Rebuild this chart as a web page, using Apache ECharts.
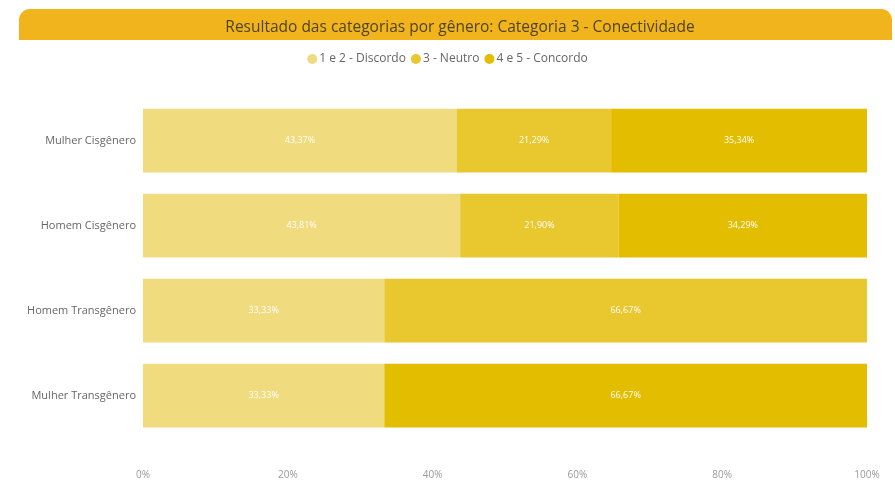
<!DOCTYPE html>
<html>
<head>
<meta charset="utf-8">
<script src="https://cdn.jsdelivr.net/npm/echarts@6/dist/echarts.min.js"></script>
<style>
  html, body { margin: 0; padding: 0; background: #fff; }
  #chart { width: 895px; height: 484px; }
</style>
</head>
<body>
<div id="chart"></div>
<script>
const categories = ["Mulher Cisgênero", "Homem Cisgênero", "Homem Transgênero", "Mulher Transgênero"];
const seriesNames = ["1 e 2 - Discordo", "3 - Neutro", "4 e 5 - Concordo"];
const discordo = [43.37, 43.81, 33.33, 33.33];
const neutro = [21.29, 21.90, 66.67, null];
const concordo = [35.34, 34.29, null, 66.67];
const xTicks = [0, 20, 40, 60, 80, 100];

const colors = ["#F0DB7E", "#E9C72F", "#E3BD00"];
const font = "'Open Sans', 'Noto Sans', sans-serif";

const fmt = (p) => p.value == null ? "" : p.value.toFixed(2).replace(".", ",") + "%";

const makeSeries = (name, data) => ({
  name: name,
  type: "bar",
  stack: "total",
  barCategoryGap: "25%",
  data: data,
  label: {
    show: true,
    position: "inside",
    color: "#fff",
    fontSize: 9,
    fontFamily: font,
    formatter: fmt,
  },
});

var chart = echarts.init(document.getElementById("chart"));
chart.setOption({
  animation: false,
  color: colors,
  graphic: [
    {
      type: "rect",
      left: 19,
      top: 9,
      shape: { width: 873, height: 31, r: [11, 11, 0, 0] },
      style: { fill: "#F2B41C" },
      z: 0,
    },
  ],
  title: {
    text: "Resultado das categorias por gênero: Categoria 3 - Conectividade",
    left: 455,
    textAlign: "center",
    top: 15,
    textStyle: { fontSize: 15.5, fontWeight: "normal", color: "#4F4420", fontFamily: font },
  },
  legend: {
    top: 48,
    left: "center",
    icon: "circle",
    itemWidth: 10,
    itemHeight: 10,
    itemGap: 5,
    textStyle: { fontSize: 12, color: "#666", fontFamily: font, padding: [0, 0, 0, -3] },
    data: seriesNames,
  },
  grid: { left: 143, right: 28, top: 98, bottom: 46 },
  xAxis: {
    type: "value",
    min: 0,
    max: 100,
    interval: 20,
    axisLine: { show: false },
    axisTick: { show: false },
    splitLine: { show: false },
    axisLabel: {
      margin: 32,
      color: "#999",
      fontSize: 10,
      fontFamily: font,
      formatter: (v) => (xTicks.includes(v) ? v + "%" : ""),
    },
  },
  yAxis: {
    type: "category",
    data: categories,
    inverse: true,
    axisLine: { show: false },
    axisTick: { show: false },
    axisLabel: { color: "#666", fontSize: 11, fontFamily: font, margin: 7 },
  },
  series: [
    makeSeries(seriesNames[0], discordo),
    makeSeries(seriesNames[1], neutro),
    makeSeries(seriesNames[2], concordo),
  ],
});
</script>
</body>
</html>
